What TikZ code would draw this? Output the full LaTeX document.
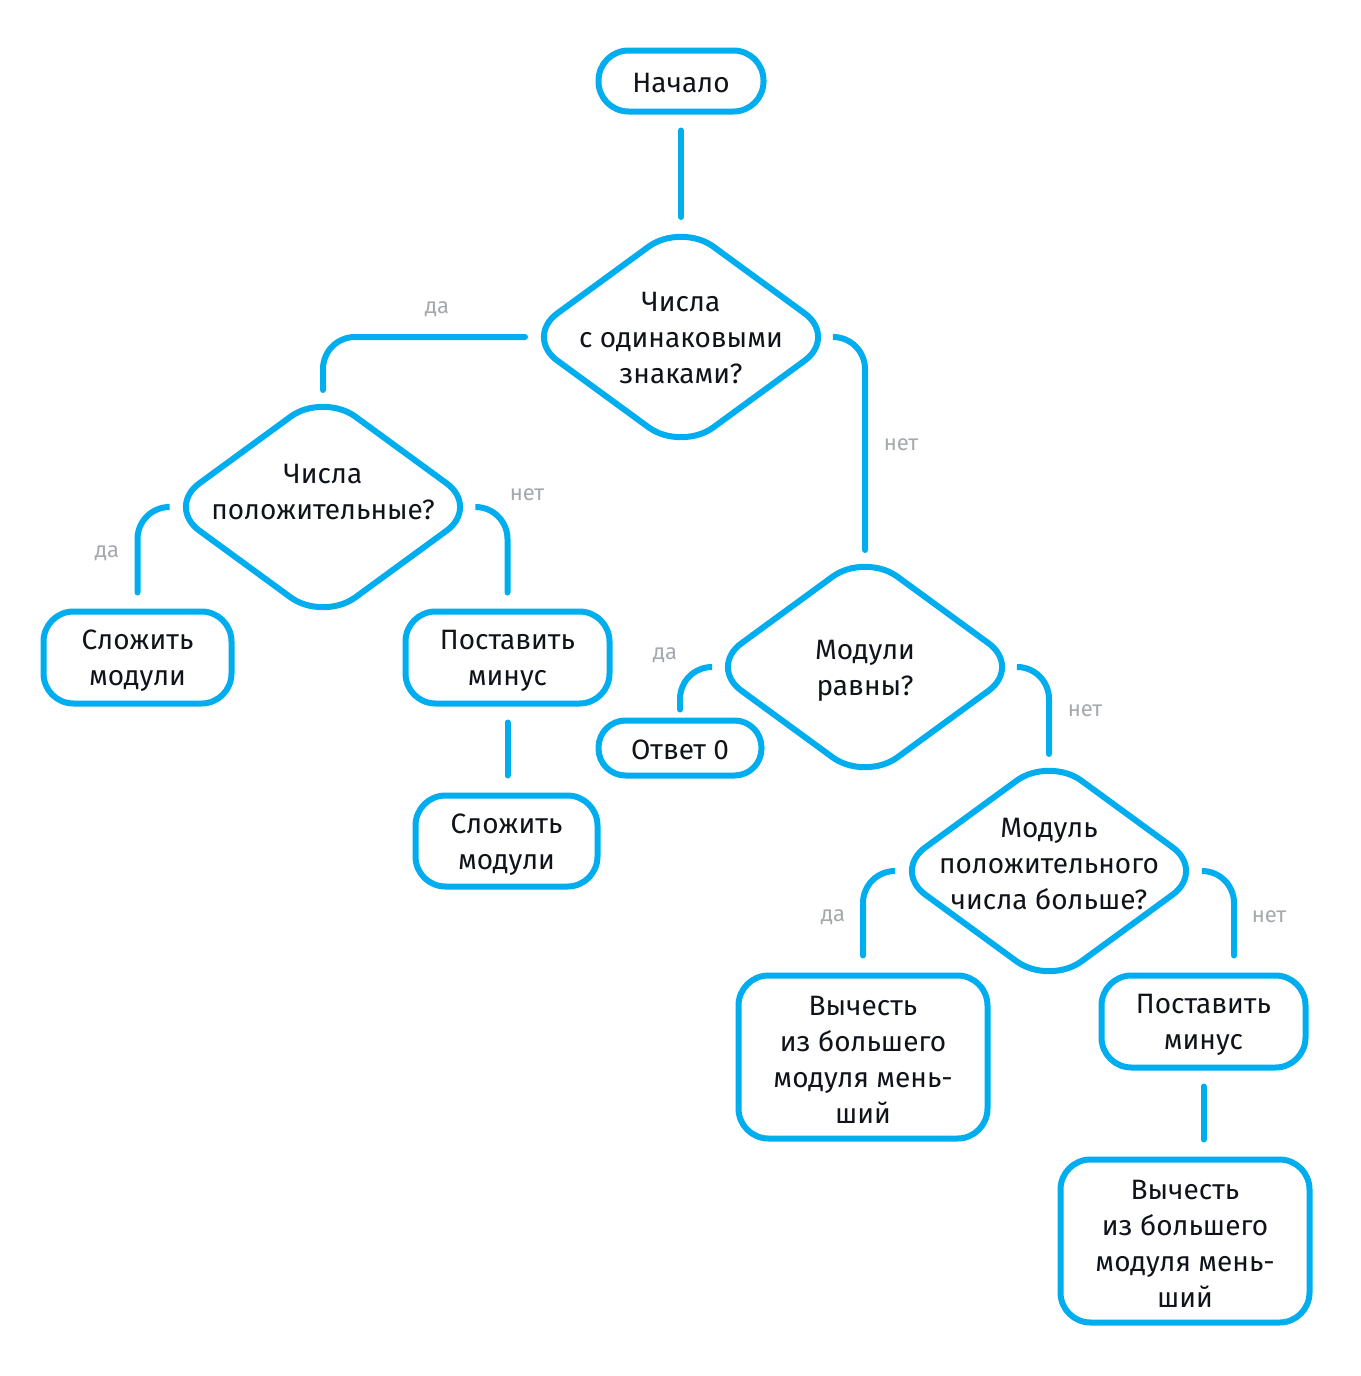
\documentclass[tikz,border=0pt]{standalone}
\usepackage{fontspec}
\setmainfont{Fira Sans}
\usetikzlibrary{shapes.geometric,calc}
\definecolor{fcblue}{RGB}{0,174,239}
\definecolor{fctext}{RGB}{16,20,26}
\definecolor{fcgray}{RGB}{165,169,173}
\begin{document}
\begin{tikzpicture}[x=0.5pt,y=-0.5pt,
  every node/.style={font=\fontsize{14pt}{18pt}\selectfont, text=fctext},
  box/.style={draw=fcblue, line width=3pt, rounded corners=15pt, inner sep=0pt, outer sep=0pt},
  dec/.style={draw=fcblue, line width=3pt, diamond, rounded corners=20pt, minimum width=156pt, minimum height=114pt, inner sep=0pt, outer sep=0pt},
  txt/.style={align=center, inner sep=0pt},
  conn/.style={draw=fcblue, line width=3pt, line cap=round, rounded corners=16pt},
  lbl/.style={text=fcgray, font=\fontsize{11pt}{13pt}\selectfont}
]
\fill[white] (0,0) rectangle (1360,1376);
\useasboundingbox (0,0) rectangle (1360,1376);

% nodes
\node[box, minimum width=82.5pt, minimum height=30.5pt] (start) at (681,81) {};
\node[txt] (startt) at (681,83) {Начало};
\node[dec] (d1) at (681,337) {};
\node[txt] (d1t) at (681,338) {Числа\\с одинаковыми\\знаками?};
\node[dec] (d2) at (323,507) {};
\node[txt] (d2t) at (323,492) {Числа\\положительные?};
\node[box, minimum width=94pt, minimum height=46pt] (s1) at (137.5,657.5) {};
\node[txt] (s1t) at (137.5,661) {Сложить\\модули};
\node[box, minimum width=102pt, minimum height=46pt] (p1) at (507.5,657.5) {};
\node[txt] (p1t) at (507.5,661) {Поставить\\минус};
\node[box, minimum width=91pt, minimum height=45.5pt] (s2) at (506.5,841) {};
\node[txt] (s2t) at (506.5,845) {Сложить\\модули};
\node[dec] (d3) at (865,667) {};
\node[txt] (d3t) at (865,671) {Модули\\равны?};
\node[box, minimum width=81.5pt, minimum height=27.5pt, rounded corners=13.5pt] (z) at (680,748) {};
\node[txt] (zt) at (680,749.5) {Ответ 0};
\node[dec] (d4) at (1049,871) {};
\node[txt] (d4t) at (1049,864) {Модуль\\положительного\\числа больше?};
\node[box, minimum width=124.5pt, minimum height=81.5pt] (v1) at (863,1057) {};
\node[txt] (v1t) at (863,1060) {Вычесть\\из большего\\модуля мень-\\ший};
\node[box, minimum width=102pt, minimum height=46pt] (p2) at (1203.5,1021.5) {};
\node[txt] (p2t) at (1203.5,1025) {Поставить\\минус};
\node[box, minimum width=124.5pt, minimum height=81.5pt] (v2) at (1185,1241) {};
\node[txt] (v2t) at (1185,1244) {Вычесть\\из большего\\модуля мень-\\ший};

% connectors
\draw[conn, shorten <=9.5pt, shorten >=3pt] (start.south) -- (start.south |- d1.north);
\draw[conn, shorten >=1.5pt] (d1.west) -| (d2.north);
\draw[conn, shorten >=1.5pt] (d1.east) -| (d3.north);
\draw[conn, shorten >=9.5pt] (d2.west) -| (s1.north);
\draw[conn, shorten >=9.5pt] (d2.east) -| (p1.north);
\draw[conn, shorten <=9.5pt, shorten >=10pt] (p1.south) -- (p1.south |- s2.north);
\draw[conn, shorten >=5.5pt] (d3.west) -| (z.north);
\draw[conn, shorten >=1.5pt] (d3.east) -| (d4.north);
\draw[conn, shorten >=10pt] (d4.west) -| (v1.north);
\draw[conn, shorten >=10pt] (d4.east) -| ($(p2.north)+(30.5,0)$);
\draw[conn, shorten <=9.5pt, shorten >=10pt] (p2.south) -- (p2.south |- v2.north);

% labels
\node[lbl] (l1) at (437,309) {да};
\node[lbl] (l2) at (901,445) {нет};
\node[lbl] (l3) at (107,553) {да};
\node[lbl] (l4) at (527,495) {нет};
\node[lbl] (l5) at (665,655) {да};
\node[lbl] (l6) at (1085,711) {нет};
\node[lbl] (l7) at (833,917) {да};
\node[lbl] (l8) at (1269,917) {нет};
\end{tikzpicture}
\end{document}
